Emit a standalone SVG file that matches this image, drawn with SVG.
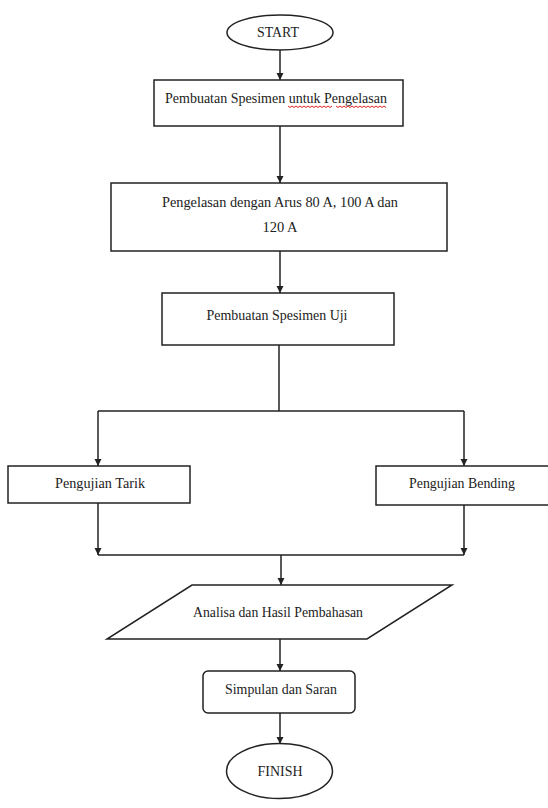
<svg xmlns="http://www.w3.org/2000/svg" width="548" height="808" viewBox="0 0 548 808">
<style>
.s{fill:#fff;stroke:#222;stroke-width:1.5}
.t{font-family:"Liberation Serif","Times New Roman",serif;font-size:14.5px;fill:#222;text-anchor:middle}
.c{fill:none;stroke:#222;stroke-width:1.5}
.sp{fill:none;stroke:#d22;stroke-width:1}
</style>
<defs>
<marker id="a" viewBox="0 0 10 10" refX="10" refY="5" markerWidth="7" markerHeight="8" orient="auto" markerUnits="userSpaceOnUse">
<path d="M0,0 L10,5 L0,10 z" fill="#222"/>
</marker>
</defs>
<rect width="548" height="808" fill="#fff"/>
<g id="connectors">
<line class="c" x1="280" y1="50" x2="280" y2="80" marker-end="url(#a)"/>
<line class="c" x1="280" y1="126" x2="280" y2="183" marker-end="url(#a)"/>
<line class="c" x1="280" y1="251" x2="280" y2="293" marker-end="url(#a)"/>
<line class="c" x1="279" y1="345" x2="279" y2="411"/>
<line class="c" x1="98" y1="411" x2="464" y2="411"/>
<line class="c" x1="98" y1="411" x2="98" y2="466" marker-end="url(#a)"/>
<line class="c" x1="464" y1="411" x2="464" y2="466" marker-end="url(#a)"/>
<line class="c" x1="98" y1="503" x2="98" y2="555" marker-end="url(#a)"/>
<line class="c" x1="464" y1="505" x2="464" y2="555" marker-end="url(#a)"/>
<line class="c" x1="98" y1="555" x2="464" y2="555"/>
<line class="c" x1="281" y1="555" x2="281" y2="585" marker-end="url(#a)"/>
<line class="c" x1="280" y1="639" x2="280" y2="671" marker-end="url(#a)"/>
<line class="c" x1="280" y1="713" x2="280" y2="744" marker-end="url(#a)"/>
</g>
<g id="start">
<ellipse class="s" cx="280" cy="32.5" rx="53" ry="17.5"/>
<text class="t" x="278" y="37" textLength="42" lengthAdjust="spacingAndGlyphs">START</text>
</g>
<g id="pembuatan-spesimen">
<rect class="s" x="154" y="80" width="249" height="46"/>
<text class="t" x="276" y="103" textLength="222" lengthAdjust="spacingAndGlyphs">Pembuatan Spesimen untuk Pengelasan</text>
<path class="sp" d="M288,106 l2,1.5 l2,-1.5 l2,1.5 l2,-1.5 l2,1.5 l2,-1.5 l2,1.5 l2,-1.5 l2,1.5 l2,-1.5 l2,1.5 l2,-1.5 l2,1.5 l2,-1.5 l2,1.5 l2,-1.5 l2,1.5 l2,-1.5 l2,1.5 l2,-1.5 l2,1.5 l2,-1.5"/>
<path class="sp" d="M336,106 l2,1.5 l2,-1.5 l2,1.5 l2,-1.5 l2,1.5 l2,-1.5 l2,1.5 l2,-1.5 l2,1.5 l2,-1.5 l2,1.5 l2,-1.5 l2,1.5 l2,-1.5 l2,1.5 l2,-1.5 l2,1.5 l2,-1.5 l2,1.5 l2,-1.5 l2,1.5 l2,-1.5 l2,1.5 l2,-1.5 l2,1.5"/>
</g>
<g id="pengelasan">
<rect class="s" x="111" y="183" width="336" height="68"/>
<text class="t" x="280" y="207" textLength="236" lengthAdjust="spacingAndGlyphs">Pengelasan dengan Arus 80 A, 100 A dan</text>
<text class="t" x="280" y="232">120 A</text>
</g>
<g id="spesimen-uji">
<rect class="s" x="162" y="293" width="232" height="52"/>
<text class="t" x="277" y="320" textLength="141" lengthAdjust="spacingAndGlyphs">Pembuatan Spesimen Uji</text>
</g>
<g id="tarik">
<rect class="s" x="8" y="466" width="182" height="37"/>
<text class="t" x="100" y="488" textLength="90" lengthAdjust="spacingAndGlyphs">Pengujian Tarik</text>
</g>
<g id="bending">
<rect class="s" x="376" y="466" width="180" height="39"/>
<text class="t" x="462" y="488" textLength="106" lengthAdjust="spacingAndGlyphs">Pengujian Bending</text>
</g>
<g id="analisa">
<polygon class="s" points="192,585 452,585 367,639 107,639"/>
<text class="t" x="278" y="617" textLength="170" lengthAdjust="spacingAndGlyphs">Analisa dan Hasil Pembahasan</text>
</g>
<g id="simpulan">
<rect class="s" x="203" y="671" width="152" height="42" rx="5"/>
<text class="t" x="281" y="694" textLength="112" lengthAdjust="spacingAndGlyphs">Simpulan dan Saran</text>
</g>
<g id="finish">
<ellipse class="s" cx="279.5" cy="771" rx="53" ry="27.5"/>
<text class="t" x="280" y="776" textLength="45" lengthAdjust="spacingAndGlyphs">FINISH</text>
</g>
</svg>
